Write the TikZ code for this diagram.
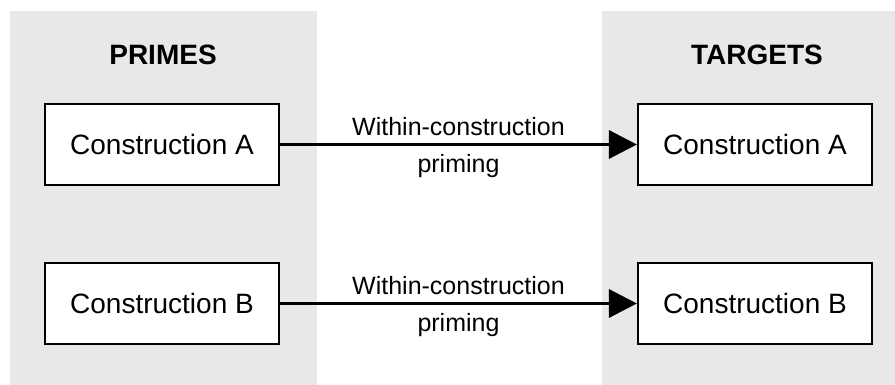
\documentclass[tikz,border=0pt]{standalone}
\usepackage{fontspec}
\setmainfont{Liberation Sans}
\usetikzlibrary{arrows.meta}
\definecolor{panelgray}{HTML}{E8E8E8}
\begin{document}
\begin{tikzpicture}[x=1pt,y=-1pt,
  panel/.style={fill=panelgray,draw=none},
  cbox/.style={draw=black,fill=white,line width=2.2pt,minimum width=234pt,minimum height=81pt,inner sep=0pt,font=\fontsize{28}{32}\selectfont},
  header/.style={font=\fontsize{28}{32}\selectfont\bfseries},
  conn/.style={line width=3.5pt,-{Triangle[length=28pt,width=28pt]}},
  lbl/.style={font=\fontsize{25}{29}\selectfont,inner sep=0pt}]
\useasboundingbox (0,0) rectangle (895,385);
\fill[panel] (10,11) rectangle (317,385);
\fill[panel] (602,11) rectangle (895,385);
\node[header] (hp) at (163,55) {PRIMES};
\node[header] (ht) at (757,55) {TARGETS};
\node[cbox] (pa) at (162,144.5) {Construction A};
\node[cbox] (pb) at (162,303.5) {Construction B};
\node[cbox] (ta) at (755,144.5) {Construction A};
\node[cbox] (tb) at (755,303.5) {Construction B};
\draw[conn] (pa.east) -- (ta.west) node[midway,lbl,above=7pt] (la1) {Within-construction} node[midway,lbl,below=8pt] (la2) {priming};
\draw[conn] (pb.east) -- (tb.west) node[midway,lbl,above=7pt] (lb1) {Within-construction} node[midway,lbl,below=8pt] (lb2) {priming};
\end{tikzpicture}
\end{document}
